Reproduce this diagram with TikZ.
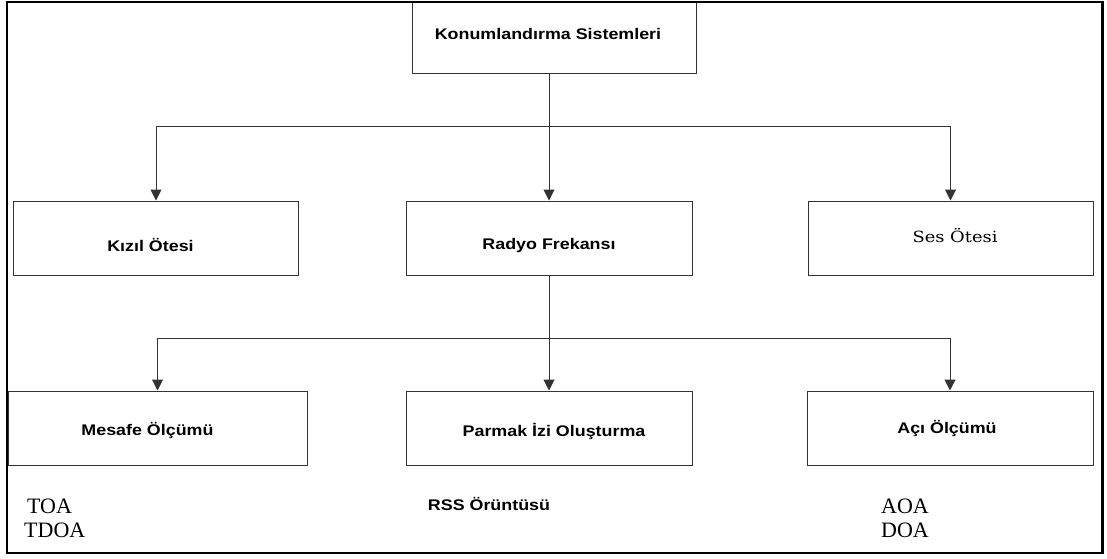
\documentclass[tikz,border=0pt]{standalone}
\usepackage{fontspec}
\setmainfont{Liberation Sans}
\newfontfamily\serifwide{DejaVu Serif}
\newfontfamily\timesfont{Liberation Serif}
\usetikzlibrary{arrows.meta}

% text set slightly wider than normal
\newcommand\stretchx[1]{\scalebox{1.16}[1]{#1}}
% place a label inside its box with a horizontal (#1 = twice the shift) and vertical (#2) offset
\newcommand\offsettext[3]{\raisebox{-#2}[0pt][0pt]{\makebox[0pt]{\hspace*{#1}#3}}}
\newcommand\boxtext[1]{\stretchx{\fontsize{15.4}{18}\selectfont\bfseries #1}}
\newcommand\serifboxtext[1]{\stretchx{\serifwide\fontsize{15.4}{18}\selectfont #1}}
\newcommand\codetext[1]{\timesfont\fontsize{22}{24}\selectfont #1}

\tikzset{
  box/.style={draw=black!80, line width=1pt, inner sep=0pt, minimum height=74pt},
  link/.style={draw=black!80, line width=1pt},
  arrowlink/.style={link, -{Triangle[length=11pt,width=11pt]}},
  note/.style={inner sep=0pt, anchor=base west},
}

\begin{document}
\begin{tikzpicture}[x=1pt, y=-1pt]
  \useasboundingbox (0,0) rectangle (1107,558);

  % top level
  \node[box, minimum width=284pt, minimum height=71pt] (top) at (554,37.5)
    {\offsettext{-12pt}{1.9pt}{\boxtext{Konumlandırma Sistemleri}}};

  % second level
  \node[box, minimum width=285pt] (kizil) at (156,238)
    {\offsettext{-11pt}{13.4pt}{\boxtext{Kızıl Ötesi}}};
  \node[box, minimum width=286pt] (radyo) at (549,238)
    {\offsettext{0pt}{11.4pt}{\boxtext{Radyo Frekansı}}};
  \node[box, minimum width=285pt] (ses) at (950.5,238)
    {\offsettext{9pt}{4pt}{\serifboxtext{Ses Ötesi}}};

  % third level
  \node[box, minimum width=299pt] (mesafe) at (157.5,428)
    {\offsettext{-20pt}{7.9pt}{\boxtext{Mesafe Ölçümü}}};
  \node[box, minimum width=286pt] (parmak) at (549,428)
    {\offsettext{10pt}{8.9pt}{\boxtext{Parmak İzi Oluşturma}}};
  \node[box, minimum width=286pt] (aci) at (950,428)
    {\offsettext{-6pt}{5.9pt}{\boxtext{Açı Ölçümü}}};

  % techniques under each method
  \node[note] (toa) at (27,513) {\codetext{TOA}};
  \node[note] (tdoa) at (24,537) {\codetext{TDOA}};
  \node[inner sep=0pt, anchor=base] (rss) at (489,510) {\boxtext{RSS Örüntüsü}};
  \node[note] (aoa) at (881,513) {\codetext{AOA}};
  \node[note] (doa) at (881,537) {\codetext{DOA}};

  % connectors: first split
  \coordinate (busA) at (0,126);
  \draw[link] (top.south -| radyo.north) -- (radyo.north |- busA);
  \draw[link] (kizil.north |- busA) -- (ses.north |- busA);
  \draw[arrowlink] (kizil.north |- busA) -- (kizil.north);
  \draw[arrowlink] (radyo.north |- busA) -- (radyo.north);
  \draw[arrowlink] (ses.north |- busA) -- (ses.north);

  % connectors: second split
  \coordinate (busB) at (0,338);
  \draw[link] (radyo.south) -- (parmak.north |- busB);
  \draw[link] (mesafe.north |- busB) -- (aci.north |- busB);
  \draw[arrowlink] (mesafe.north |- busB) -- (mesafe.north);
  \draw[arrowlink] (parmak.north |- busB) -- (parmak.north);
  \draw[arrowlink] (aci.north |- busB) -- (aci.north);

  % outer frame
  \draw[line width=2.5pt] (7,2) rectangle (1102.5,553);
\end{tikzpicture}
\end{document}
